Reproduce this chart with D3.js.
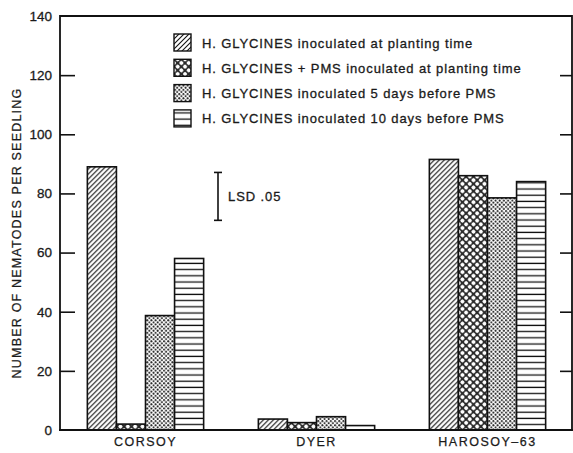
<!DOCTYPE html>
<html>
<head>
<meta charset="utf-8">
<script src="https://cdn.jsdelivr.net/npm/d3@7"></script>
<style>
  body { margin: 0; background: #fff; }
  svg { display: block; font-family: "Liberation Sans", Arial, Helvetica, sans-serif; }
</style>
</head>
<body>
<svg id="chart" width="573" height="453"></svg>
<script>
// ---- data ----
const categories = ["CORSOY", "DYER", "HAROSOY\u201363"];
const seriesNames = [
  "H. GLYCINES inoculated at planting time",
  "H. GLYCINES + PMS inoculated at planting time",
  "H. GLYCINES inoculated 5 days before PMS",
  "H. GLYCINES inoculated 10 days before PMS"
];
const seriesKeys = ["hatch", "cross", "dots", "horiz"];
const plantingTime = [89, 3.7, 91.5];
const pmsPlantingTime = [2, 2.5, 86];
const fiveDaysBefore = [38.7, 4.5, 78.5];
const tenDaysBefore = [58, 1.5, 84];
const seriesValues = [plantingTime, pmsPlantingTime, fiveDaysBefore, tenDaysBefore];
const yTicks = [0, 20, 40, 60, 80, 100, 120, 140];
const lsdCenter = 79;
const lsdValue = 16.2;
const lsdLabel = "LSD .05";
const yTitle = "NUMBER OF NEMATODES PER SEEDLING";

// ---- layout ----
const svg = d3.select("#chart");
const mLeft = 60, mRight = 572, mTop = 16, mBottom = 430;
const ink = "#1a1a1a";

const y = d3.scaleLinear().domain([0, 140]).range([mBottom, mTop]);
const x0 = d3.scaleBand().domain(categories).range([mLeft, mRight + 1])
  .paddingInner(0.32).paddingOuter(0.16);
const x1 = d3.scaleBand().domain(d3.range(seriesValues.length)).range([0, x0.bandwidth()]);

// ---- patterns ----
const defs = svg.append("defs");
// diagonal hatch "/"
const p1 = defs.append("pattern").attr("id", "hatch").attr("patternUnits", "userSpaceOnUse")
  .attr("width", 5).attr("height", 5);
p1.append("rect").attr("width", 5).attr("height", 5).attr("fill", "#fff");
p1.append("path").attr("d", "M-1,1 L1,-1 M0,5 L5,0 M4,6 L6,4")
  .attr("stroke", "#111").attr("stroke-width", 1.1);
// crosshatch with white circles (diagonal)
const p2 = defs.append("pattern").attr("id", "cross").attr("patternUnits", "userSpaceOnUse")
  .attr("width", 5.2).attr("height", 5.2).attr("patternTransform", "rotate(45)");
p2.append("rect").attr("width", 5.2).attr("height", 5.2).attr("fill", "#2a2a2a");
p2.append("circle").attr("cx", 2.6).attr("cy", 2.6).attr("r", 2.0).attr("fill", "#fff");
// dots
const p3 = defs.append("pattern").attr("id", "dots").attr("patternUnits", "userSpaceOnUse")
  .attr("width", 4.2).attr("height", 4.2);
p3.append("rect").attr("width", 4.2).attr("height", 4.2).attr("fill", "#fff");
p3.append("circle").attr("cx", 1.05).attr("cy", 1.05).attr("r", 1.0).attr("fill", "#222");
p3.append("circle").attr("cx", 3.15).attr("cy", 3.15).attr("r", 1.0).attr("fill", "#222");
// horizontal lines
const p4 = defs.append("pattern").attr("id", "horiz").attr("patternUnits", "userSpaceOnUse")
  .attr("width", 6).attr("height", 6.2);
p4.append("rect").attr("width", 6).attr("height", 6.2).attr("fill", "#fff");
p4.append("path").attr("d", "M0,3 L6,3").attr("stroke", "#111").attr("stroke-width", 1.3);

// ---- bars ----
const groups = svg.append("g").selectAll("g").data(categories).join("g")
  .attr("transform", d => `translate(${x0(d)},0)`);
groups.selectAll("rect")
  .data((c, ci) => seriesValues.map((vals, si) => ({ si, v: vals[ci] })))
  .join("rect")
  .attr("x", d => x1(d.si))
  .attr("width", x1.bandwidth())
  .attr("y", d => y(d.v))
  .attr("height", d => y(0) - y(d.v))
  .attr("fill", d => `url(#${seriesKeys[d.si]})`)
  .attr("stroke", "#111").attr("stroke-width", 1.6);

// ---- axes ----
const axisL = svg.append("g").attr("transform", `translate(${mLeft},0)`)
  .call(d3.axisLeft(y).tickValues(yTicks).tickSize(-15).tickPadding(8).tickFormat(d3.format("d")));
axisL.select(".domain").remove();
axisL.selectAll(".tick line").attr("stroke", "#111").attr("stroke-width", 1.6)
  .filter(d => d === 0 || d === 140).remove();
axisL.selectAll("text").attr("font-size", 13.5).attr("fill", ink)
  .attr("stroke", ink).attr("stroke-width", 0.3)
  .attr("font-family", "Liberation Sans, Arial, sans-serif");

const axisR = svg.append("g").attr("transform", `translate(${mRight},0)`)
  .call(d3.axisRight(y).tickValues(yTicks.filter(d => d > 0 && d < 140)).tickSize(-12).tickFormat(""));
axisR.select(".domain").remove();
axisR.selectAll(".tick line").attr("stroke", "#111").attr("stroke-width", 1.6);

// frame
svg.append("path")
  .attr("d", `M${mLeft},${mBottom} L${mLeft},${mTop} L${mRight},${mTop} L${mRight},${mBottom}`)
  .attr("fill", "none").attr("stroke", "#111").attr("stroke-width", 1.8);
svg.append("line").attr("x1", mLeft - 1).attr("x2", mRight + 1)
  .attr("y1", mBottom).attr("y2", mBottom).attr("stroke", "#111").attr("stroke-width", 1.8);

// category labels
const axisB = svg.append("g").attr("transform", `translate(0,${mBottom})`)
  .call(d3.axisBottom(x0).tickSize(0).tickPadding(7));
axisB.select(".domain").remove();
axisB.selectAll("text").attr("font-size", 12.5).attr("fill", ink)
  .attr("stroke", ink).attr("stroke-width", 0.25)
  .attr("letter-spacing", "1.5px")
  .attr("font-family", "Liberation Sans, Arial, sans-serif");

// y title
svg.append("text")
  .attr("transform", `translate(21,${(mTop + mBottom) / 2 + 10}) rotate(-90)`)
  .attr("text-anchor", "middle")
  .attr("font-size", 12.5).attr("fill", ink).attr("letter-spacing", "1.2px")
  .attr("stroke", ink).attr("stroke-width", 0.25)
  .text(yTitle);

// ---- legend ----
const legend = svg.append("g").attr("transform", "translate(174,34)");
const rows = legend.selectAll("g").data(seriesNames).join("g")
  .attr("transform", (d, i) => `translate(0,${i * 25.3})`);
rows.append("rect").attr("width", 17).attr("height", 17)
  .attr("fill", (d, i) => `url(#${seriesKeys[i]})`)
  .attr("stroke", "#111").attr("stroke-width", 1.4);
rows.append("text").attr("x", 28).attr("y", 13.5)
  .attr("font-size", 13).attr("fill", ink).attr("letter-spacing", "0.9px")
  .attr("stroke", ink).attr("stroke-width", 0.3)
  .text(d => d);

// ---- LSD bar ----
const lsdX = 218;
const lsd = svg.append("g").attr("stroke", "#111").attr("stroke-width", 1.6);
lsd.append("line").attr("x1", lsdX).attr("x2", lsdX)
  .attr("y1", y(lsdCenter + lsdValue / 2)).attr("y2", y(lsdCenter - lsdValue / 2));
lsd.append("line").attr("x1", lsdX - 4).attr("x2", lsdX + 4)
  .attr("y1", y(lsdCenter + lsdValue / 2)).attr("y2", y(lsdCenter + lsdValue / 2));
lsd.append("line").attr("x1", lsdX - 4).attr("x2", lsdX + 4)
  .attr("y1", y(lsdCenter - lsdValue / 2)).attr("y2", y(lsdCenter - lsdValue / 2));
svg.append("text").attr("x", lsdX + 10).attr("y", y(lsdCenter) + 5)
  .attr("font-size", 13).attr("fill", ink).attr("letter-spacing", "0.9px")
  .attr("stroke", ink).attr("stroke-width", 0.3)
  .text(lsdLabel);
</script>
</body>
</html>
